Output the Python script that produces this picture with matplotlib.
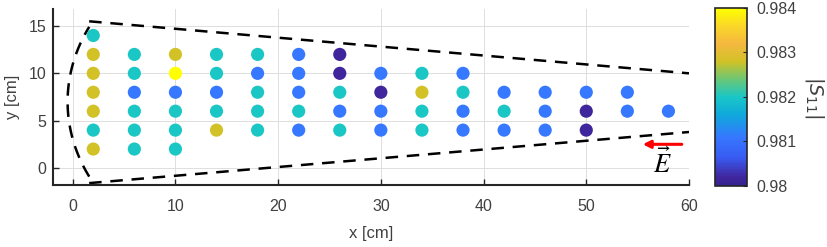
import matplotlib
matplotlib.use("Agg")
import matplotlib.pyplot as plt
import numpy as np
from matplotlib.colors import LinearSegmentedColormap

# measured |S11| at each probe position (x, y in cm)
x_cm = [2, 2, 2, 2, 2, 2, 2,
        6, 6, 6, 6, 6, 6,
        10, 10, 10, 10, 10, 10,
        14, 14, 14, 14, 14,
        18, 18, 18, 18, 18,
        22, 22, 22, 22, 22,
        26, 26, 26, 26, 26,
        30, 30, 30, 30,
        34, 34, 34, 34,
        38, 38, 38, 38,
        42, 42, 42,
        46, 46, 46,
        50, 50, 50,
        54, 54,
        58]
y_cm = [14, 12, 10, 8, 6, 4, 2,
        12, 10, 8, 6, 4, 2,
        12, 10, 8, 6, 4, 2,
        12, 10, 8, 6, 4,
        12, 10, 8, 6, 4,
        12, 10, 8, 6, 4,
        12, 10, 8, 6, 4,
        10, 8, 6, 4,
        10, 8, 6, 4,
        10, 8, 6, 4,
        8, 6, 4,
        8, 6, 4,
        8, 6, 4,
        8, 6,
        6]
s11 = [0.9820, 0.9828, 0.9828, 0.9828, 0.9828, 0.9820, 0.9828,
       0.9820, 0.9820, 0.9811, 0.9820, 0.9820, 0.9820,
       0.9828, 0.9840, 0.9811, 0.9820, 0.9820, 0.9820,
       0.9820, 0.9820, 0.9811, 0.9820, 0.9828,
       0.9820, 0.9811, 0.9820, 0.9820, 0.9820,
       0.9811, 0.9811, 0.9811, 0.9820, 0.9811,
       0.9802, 0.9802, 0.9820, 0.9811, 0.9820,
       0.9811, 0.9802, 0.9811, 0.9811,
       0.9820, 0.9828, 0.9820, 0.9820,
       0.9811, 0.9820, 0.9811, 0.9811,
       0.9811, 0.9820, 0.9811,
       0.9811, 0.9811, 0.9811,
       0.9811, 0.9802, 0.9802,
       0.9811, 0.9811,
       0.9811]

x_ticks = [0, 10, 20, 30, 40, 50, 60]
y_ticks = [0, 5, 10, 15]
cbar_ticks = [0.98, 0.981, 0.982, 0.983, 0.984]

# parula-like colormap (a bit more saturated, as in the figure)
parula = LinearSegmentedColormap.from_list("parula", [
    (0.00, (0.21, 0.13, 0.56)),
    (0.05, (0.25, 0.15, 0.62)),
    (0.16, (0.22, 0.36, 0.95)),
    (0.275, (0.21, 0.47, 1.00)),
    (0.40, (0.06, 0.66, 0.86)),
    (0.50, (0.10, 0.78, 0.78)),
    (0.60, (0.42, 0.78, 0.46)),
    (0.70, (0.82, 0.76, 0.15)),
    (0.80, (0.96, 0.72, 0.25)),
    (0.90, (0.98, 0.84, 0.16)),
    (1.00, (1.00, 1.00, 0.00)),
])

plt.rcParams['font.family'] = ['Liberation Sans', 'DejaVu Sans']
axcol = '#262626'
txtcol = '#404040'

fig = plt.figure(figsize=(8.27, 2.47), dpi=100)
ax = fig.add_axes([0.0641, 0.251, 0.769, 0.7126])
cax = fig.add_axes([0.8646, 0.247, 0.0387, 0.7206])

ax.set_axisbelow(True)
ax.grid(True, color='#dedede', lw=0.7)

sc = ax.scatter(x_cm, y_cm, c=s11, cmap=parula, vmin=0.98, vmax=0.984,
                s=90, linewidths=0, zorder=3)

# dashed outline of the horn aperture region
t = np.linspace(-0.485, 0.485, 40)
ax.plot(17.75 - 18.25 * np.cos(t), 7.0 + 18.25 * np.sin(t) * 0.93,
        '--', color='k', lw=1.8, dashes=(5, 3.5))
ax.plot([1.6, 60], [15.5, 10.0], '--', color='k', lw=1.8, dashes=(5, 3.5))
ax.plot([1.6, 60], [-1.6, 3.8], '--', color='k', lw=1.8, dashes=(5, 3.5))

# E-field direction
ax.annotate('', xy=(55.5, 2.5), xytext=(59.3, 2.5),
            arrowprops=dict(arrowstyle='-|>', color='red', lw=2.2,
                            mutation_scale=11, shrinkA=0, shrinkB=0))
ax.text(57.4, 0.6, r'$\vec{E}$', fontsize=19, ha='center', va='center',
        math_fontfamily='stix', color='k')

ax.set_xlim(-1.92, 60)
ax.set_ylim(-1.8, 16.8)
ax.set_xticks(x_ticks)
ax.set_yticks(y_ticks)
ax.tick_params(direction='in', length=4, width=1, colors=axcol,
               labelcolor=txtcol, labelsize=11.5)
ax.tick_params(axis='x', pad=10)
ax.tick_params(axis='y', pad=5)
for side in ['top', 'right']:
    ax.spines[side].set_visible(False)
for side in ['left', 'bottom']:
    ax.spines[side].set_color(axcol)
    ax.spines[side].set_linewidth(1.5)
ax.set_xlabel('x [cm]', fontsize=12, color=txtcol, labelpad=9)
ax.set_ylabel('y [cm]', fontsize=12, color=txtcol, labelpad=6)

cbar = fig.colorbar(sc, cax=cax, ticks=cbar_ticks)
cbar.ax.set_yticklabels(['0.98', '0.981', '0.982', '0.983', '0.984'])
cbar.ax.tick_params(direction='in', length=3, colors=axcol,
                    labelcolor=txtcol, labelsize=11.5, pad=7)
cbar.outline.set_edgecolor(axcol)
cbar.outline.set_linewidth(1.2)
cbar.set_label(r'$|S_{11}|$', rotation=270, fontsize=14, color=txtcol,
               labelpad=21)

fig.savefig('out.png', dpi=100)
